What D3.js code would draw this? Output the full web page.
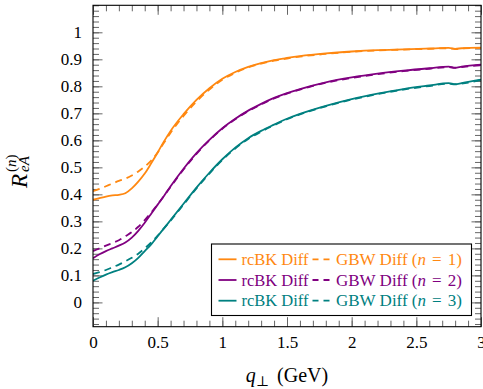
<html>
    <head>
        <script src="https://d3js.org/d3.v7.min.js"></script>
        <style>
            body { margin: 0; background: #fff; }
            svg text { font-family: "Liberation Serif", "Times New Roman", "DejaVu Serif", serif; }
            .ticks line { stroke: #666; }
            .ticks .domain { stroke: none; }
        </style>
    </head>
    <body>
        <div id="svg-area"></div>
        <script>
            // q_perp grid (GeV)
            const qVals = [0, 0.05, 0.1, 0.15, 0.2, 0.25, 0.3, 0.35, 0.4, 0.45, 0.5, 0.55, 0.6, 0.7, 0.8, 0.9,
                           1.0, 1.1, 1.2, 1.3, 1.4, 1.5, 1.6, 1.8, 2.0, 2.2, 2.4, 2.6, 2.75, 2.8, 2.85, 3.0];

            // n = 1
            const rcbk1 = [0.38, 0.386, 0.392, 0.396, 0.398, 0.404, 0.422, 0.447, 0.477, 0.515, 0.555, 0.597, 0.635, 0.697, 0.75, 0.793,
                           0.828, 0.853, 0.872, 0.886, 0.897, 0.905, 0.912, 0.922, 0.929, 0.934, 0.937, 0.94, 0.942, 0.939, 0.941, 0.943];
            const gbw1  = [0.412, 0.42, 0.43, 0.44, 0.45, 0.458, 0.47, 0.485, 0.503, 0.525, 0.555, 0.592, 0.628, 0.69, 0.744, 0.788,
                           0.824, 0.85, 0.87, 0.884, 0.895, 0.903, 0.91, 0.92, 0.928, 0.933, 0.936, 0.939, 0.941, 0.938, 0.94, 0.942];
            // n = 2
            const rcbk2 = [0.163, 0.178, 0.19, 0.2, 0.21, 0.222, 0.24, 0.265, 0.295, 0.328, 0.362, 0.395, 0.43, 0.495, 0.553, 0.602,
                           0.645, 0.68, 0.71, 0.735, 0.757, 0.775, 0.79, 0.815, 0.833, 0.847, 0.858, 0.867, 0.873, 0.869, 0.873, 0.88];
            const gbw2  = [0.19, 0.2, 0.21, 0.22, 0.23, 0.245, 0.26, 0.28, 0.305, 0.333, 0.363, 0.395, 0.428, 0.492, 0.55, 0.6,
                           0.643, 0.678, 0.708, 0.733, 0.755, 0.773, 0.788, 0.813, 0.831, 0.845, 0.856, 0.865, 0.871, 0.868, 0.871, 0.878];
            // n = 3
            const rcbk3 = [0.08, 0.092, 0.103, 0.112, 0.12, 0.13, 0.145, 0.165, 0.19, 0.215, 0.245, 0.275, 0.305, 0.365, 0.425, 0.48,
                           0.53, 0.573, 0.608, 0.635, 0.658, 0.68, 0.698, 0.728, 0.753, 0.773, 0.79, 0.803, 0.812, 0.808, 0.812, 0.825];
            const gbw3  = [0.105, 0.112, 0.12, 0.13, 0.14, 0.152, 0.165, 0.18, 0.2, 0.222, 0.247, 0.275, 0.303, 0.362, 0.422, 0.477,
                           0.527, 0.57, 0.605, 0.632, 0.656, 0.678, 0.696, 0.726, 0.751, 0.771, 0.788, 0.801, 0.81, 0.807, 0.81, 0.823];

            const seriesN = ['1', '2', '3'];
            const colors = ['#ff8811', '#800080', '#008080'];
            const rcbkSeries = [rcbk1, rcbk2, rcbk3];
            const gbwSeries = [gbw1, gbw2, gbw3];

            const xTicks = [0, 0.5, 1, 1.5, 2, 2.5, 3];
            const xTickLabels = ['0', '0.5', '1', '1.5', '2', '2.5', '3'];
            const yTicks = [0, 0.1, 0.2, 0.3, 0.4, 0.5, 0.6, 0.7, 0.8, 0.9, 1];
            const yTickLabels = ['0', '0.1', '0.2', '0.3', '0.4', '0.5', '0.6', '0.7', '0.8', '0.9', '1'];
            const xMinor = d3.range(0, 3.0001, 0.1);
            const yMinor = d3.range(-0.08, 1.1, 0.02);

            const svg = d3.select('#svg-area')
                            .append('svg')
                            .attr('width', 483)
                            .attr('height', 389);

            const width = 483;
            const height = 389;
            const margins = { top: 5.3, right: 2, bottom: 62.3, left: 93 };
            const chartWidth = width - margins.left - margins.right;
            const chartHeight = height - margins.top - margins.bottom;

            let chartArea = svg.append('g')
                    .attr('transform', `translate(${margins.left},${margins.top})`);

            const xScale = d3.scaleLinear().domain([0, 3]).range([0, chartWidth]);
            const yScale = d3.scaleLinear().domain([-0.09, 1.1]).range([chartHeight, 0]);

            // ticks on all four sides, pointing inward
            function addAxis(axisFn, scale, values, size, translate, labels, padding) {
                let ax = axisFn(scale).tickValues(values).tickSize(-size);
                if (labels) {
                    ax.tickPadding(padding).tickFormat((d, i) => labels[i]);
                } else {
                    ax.tickFormat('');
                }
                let g = chartArea.append('g')
                    .attr('class', 'ticks')
                    .attr('transform', translate)
                    .call(ax);
                g.attr('font-family', null);
                g.selectAll('text')
                    .attr('fill', '#000')
                    .style('font-size', '17px');
                return g;
            }

            addAxis(d3.axisBottom, xScale, xMinor, 6, `translate(0,${chartHeight})`);
            addAxis(d3.axisBottom, xScale, xTicks, 9.5, `translate(0,${chartHeight})`, xTickLabels, 9);
            addAxis(d3.axisTop, xScale, xMinor, 6, 'translate(0,0)');
            addAxis(d3.axisTop, xScale, xTicks, 9.5, 'translate(0,0)');
            addAxis(d3.axisLeft, yScale, yMinor, 6, 'translate(0,0)');
            addAxis(d3.axisLeft, yScale, yTicks, 9.5, 'translate(0,0)', yTickLabels, 11);
            addAxis(d3.axisRight, yScale, yMinor, 6, `translate(${chartWidth},0)`);
            addAxis(d3.axisRight, yScale, yTicks, 9.5, `translate(${chartWidth},0)`);

            // curves
            svg.append('clipPath').attr('id', 'plotclip')
                .append('rect').attr('width', chartWidth).attr('height', chartHeight);
            const lineGen = d3.line()
                .x(d => xScale(d[0]))
                .y(d => yScale(d[1]))
                .curve(d3.curveMonotoneX);

            const curves = chartArea.append('g').attr('clip-path', 'url(#plotclip)');
            rcbkSeries.forEach((vals, i) => {
                curves.append('path')
                    .datum(qVals.map((q, j) => [q, vals[j]]))
                    .attr('d', lineGen)
                    .attr('fill', 'none')
                    .attr('stroke', colors[i])
                    .attr('stroke-width', 1.8);
                curves.append('path')
                    .datum(qVals.map((q, j) => [q, gbwSeries[i][j]]))
                    .attr('d', lineGen)
                    .attr('fill', 'none')
                    .attr('stroke', colors[i])
                    .attr('stroke-width', 1.8)
                    .attr('stroke-dasharray', '7,5');
            });

            // frame
            chartArea.append('rect')
                .attr('width', chartWidth)
                .attr('height', chartHeight)
                .attr('fill', 'none')
                .attr('stroke', '#000')
                .attr('stroke-width', 1.1);

            // legend
            const legend = svg.append('g').attr('transform', 'translate(211.5,244)');
            legend.append('rect')
                .attr('width', 260)
                .attr('height', 71.5)
                .attr('fill', '#fff')
                .attr('stroke', '#000')
                .attr('stroke-width', 1.1);
            seriesN.forEach((n, i) => {
                const cy = 15.3 + i * 20.7;
                legend.append('line')
                    .attr('x1', 7).attr('x2', 25).attr('y1', cy).attr('y2', cy)
                    .attr('stroke', colors[i]).attr('stroke-width', 1.8);
                legend.append('text')
                    .attr('x', 30).attr('y', cy + 5.5)
                    .attr('fill', colors[i])
                    .style('font-size', '16.5px')
                    .text('rcBK Diff');
                legend.append('line')
                    .attr('x1', 101).attr('x2', 120).attr('y1', cy).attr('y2', cy)
                    .attr('stroke', colors[i]).attr('stroke-width', 1.8)
                    .attr('stroke-dasharray', '6,5');
                let t = legend.append('text')
                    .attr('x', 124.5).attr('y', cy + 5.5)
                    .attr('fill', colors[i])
                    .style('font-size', '17px');
                t.append('tspan').text('GBW Diff (');
                t.append('tspan').style('font-style', 'italic').text('n');
                t.append('tspan').attr('dx', 6).text('=');
                t.append('tspan').attr('dx', 6).text(n + ')');
            });

            // axis labels
            let xl = svg.append('text')
                .attr('x', margins.left + chartWidth / 2)
                .attr('y', 382)
                .attr('text-anchor', 'middle')
                .style('font-size', '20px');
            xl.append('tspan').style('font-style', 'italic').text('q');
            xl.append('tspan').attr('dy', 4).style('font-size', '14px').text('\u22a5');
            xl.append('tspan').attr('dy', -4).attr('dx', 3).text(' (GeV)');

            let yl = svg.append('g').attr('transform', 'translate(27,166) rotate(-90)');
            yl.append('text').attr('x', -22).attr('y', 0)
                .style('font-size', '23px').style('font-style', 'italic').text('R');
            let sup = yl.append('text').attr('x', -6).attr('y', -11)
                .style('font-size', '15px');
            sup.append('tspan').text('(');
            sup.append('tspan').style('font-style', 'italic').text('n');
            sup.append('tspan').text(')');
            yl.append('text').attr('x', -6).attr('y', 2)
                .style('font-size', '15px').style('font-style', 'italic').text('eA');
        </script>
    </body>
</html>
